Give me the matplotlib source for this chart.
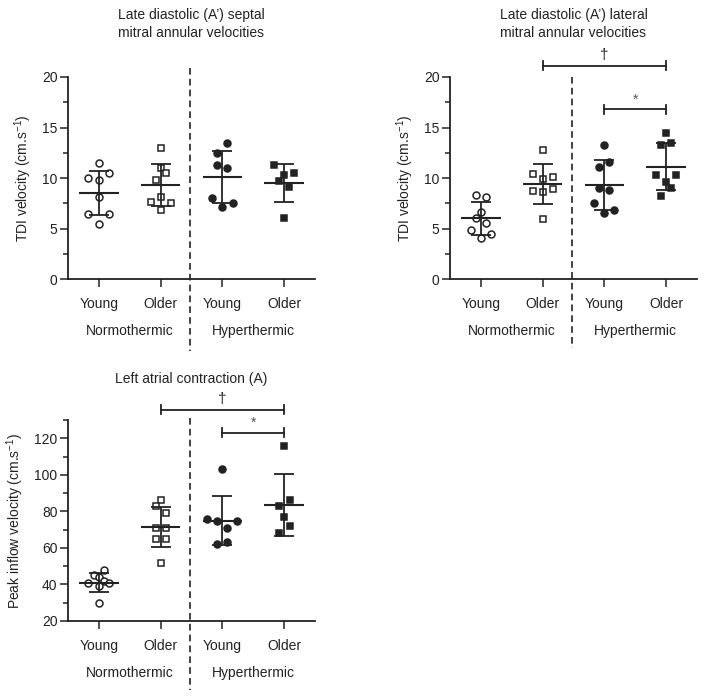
import matplotlib
matplotlib.use("Agg")
import matplotlib.pyplot as plt

plt.rcParams['font.family'] = ['Liberation Sans', 'DejaVu Sans']
plt.rcParams['mathtext.default'] = 'regular'

INK = '#222222'

groups = ['Young', 'Older', 'Young', 'Older']
conditions = ['Normothermic', 'Hyperthermic']

# --- septal A' (cm/s) ---
sep_young_n = [11.5, 10.0, 9.8, 10.5, 8.1, 6.4, 6.4, 5.4]
sep_older_n = [13.0, 11.0, 10.5, 9.8, 8.1, 7.6, 7.5, 6.8]
sep_young_h = [13.5, 12.5, 11.3, 11.0, 8.0, 7.1, 7.5]
sep_older_h = [11.3, 10.5, 10.3, 9.7, 9.1, 6.0]
sep_mean = [8.5, 9.3, 10.1, 9.5]
sep_sd = [2.2, 2.1, 2.6, 1.85]

# --- lateral A' (cm/s) ---
lat_young_n = [8.3, 8.1, 6.6, 6.0, 5.5, 4.9, 4.5, 4.1]
lat_older_n = [12.8, 10.4, 10.1, 9.9, 8.9, 8.7, 8.6, 5.9]
lat_young_h = [13.3, 11.6, 11.1, 9.05, 8.8, 7.5, 6.5, 6.8]
lat_older_h = [14.5, 13.5, 13.3, 10.3, 10.3, 9.65, 9.05, 8.2]
lat_mean = [6.0, 9.4, 9.3, 11.1]
lat_sd = [1.6, 1.97, 2.45, 2.32]

# --- left atrial contraction A (cm/s) ---
la_young_n = [48, 45, 44, 41, 42, 41, 39, 30]
la_older_n = [86, 83, 79, 71, 71, 65, 65, 52]
la_young_h = [103, 76, 75, 75, 71, 62, 63]
la_older_h = [116, 86, 83, 77, 72, 68]
la_mean = [41, 71.5, 75, 83.5]
la_sd = [5, 11, 13.5, 17.2]

# horizontal scatter of the dots (category units)
jit = {
    'sep': [[0, -0.17, 0, 0.16, 0, -0.17, 0.16, 0],
            [0, 0, 0.09, -0.08, 0, -0.16, 0.17, 0],
            [0.08, -0.08, -0.08, 0.08, -0.16, 0, 0.17],
            [-0.16, 0.16, 0, -0.08, 0.08, 0]],
    'lat': [[-0.08, 0.08, 0, -0.08, 0.08, -0.16, 0.16, 0],
            [0, -0.16, 0.17, 0, 0.17, -0.16, 0, 0],
            [0, 0.08, -0.09, -0.09, 0.08, -0.17, 0, 0.16],
            [0, 0.08, -0.09, -0.17, 0.16, 0, 0.08, -0.09]],
    'la': [[0.08, -0.08, 0.0, -0.17, 0.08, 0.16, 0, 0],
           [0, -0.08, 0.09, -0.08, 0.09, -0.08, 0.09, 0],
           [0, -0.25, -0.08, 0.24, 0.08, -0.08, 0.08],
           [0, 0.09, -0.08, 0, 0.09, -0.08]],
}

W, H = 704, 699
fig = plt.figure(figsize=(W / 100, H / 100), dpi=100)


def px_axes(left, top, right, bottom):
    return fig.add_axes([left / W, 1 - bottom / H, (right - left) / W, (bottom - top) / H])


def panel(ax, data, offs, mean, sd, ylim, major, minor, ylabel, title, title_y,
          dash_top, dash_bot, sig=None):
    styles = [('o', 'white'), ('s', 'white'), ('o', INK), ('s', INK)]
    for i, (vals, off) in enumerate(zip(data, offs)):
        m, fc = styles[i]
        xs = [i + o for o in off]
        ax.plot(xs, vals, m, ms=5.0 if m == 'o' else 4.7, mfc=fc, mec=INK,
                mew=1.1, ls='none', zorder=3, clip_on=False)
        ax.hlines(mean[i], i - 0.32, i + 0.32, color=INK, lw=1.5, zorder=4)
        ax.vlines(i, mean[i] - sd[i], mean[i] + sd[i], color=INK, lw=1.3, zorder=4)
        ax.hlines([mean[i] - sd[i], mean[i] + sd[i]], i - 0.16, i + 0.16,
                  color=INK, lw=1.3, zorder=4)

    ax.set_xlim(-0.5, 3.5)
    ax.set_ylim(*ylim)
    ax.set_yticks(major)
    ax.set_yticks(minor, minor=True)
    ax.set_xticks(range(4))
    ax.set_xticklabels(groups, fontsize=10, color=INK)
    ax.tick_params(axis='y', labelsize=10, colors=INK, length=6, width=1.1, pad=1.5)
    ax.tick_params(axis='y', which='minor', length=3.5, width=1.1, colors=INK)
    ax.tick_params(axis='x', length=6, width=1.1, colors=INK, pad=7)
    for s in ['top', 'right']:
        ax.spines[s].set_visible(False)
    for s in ['left', 'bottom']:
        ax.spines[s].set_linewidth(1.3)
        ax.spines[s].set_color(INK)
    ax.set_ylabel(ylabel, fontsize=10, color=INK, labelpad=6)

    tr = ax.get_xaxis_transform()
    ax.plot([1.47, 1.47], [dash_top, dash_bot], transform=tr, color=INK, lw=1.2,
            ls=(0, (4, 2.5)), clip_on=False)
    for k, name in enumerate(conditions):
        ax.annotate(name, xy=(0.5 + 2 * k, 0), xycoords=tr, xytext=(0, -37.5),
                    textcoords='offset points', ha='center', va='center',
                    fontsize=10, color=INK)
    ax.text(0.5, title_y, title, transform=ax.transAxes, ha='center', va='center',
            fontsize=10, color=INK, linespacing=1.3)

    if sig:
        for x0, x1, y, sym, tick in sig:
            ax.plot([x0, x1], [y, y], color=INK, lw=1.3, clip_on=False)
            for xx in (x0, x1):
                ax.plot([xx, xx], [y - tick, y + tick], color=INK, lw=1.3, clip_on=False)
            if sym == '†':
                ax.annotate(sym, xy=((x0 + x1) / 2, y), xytext=(0, 2.5),
                            textcoords='offset points', ha='center', va='bottom',
                            fontsize=11, color=INK, annotation_clip=False)
            else:
                ax.annotate(sym, xy=((x0 + x1) / 2, y), xytext=(0, 2),
                            textcoords='offset points', ha='center', va='bottom',
                            fontsize=10, color='#555555', annotation_clip=False)


ax1 = px_axes(68, 77, 315, 279)
panel(ax1, [sep_young_n, sep_older_n, sep_young_h, sep_older_h], jit['sep'],
      sep_mean, sep_sd, (0, 20), range(0, 21, 5), [2.5, 7.5, 12.5, 17.5],
      'TDI velocity (cm.s$^{-1}$)',
      "Late diastolic (A\u2019) septal\nmitral annular velocities", 1.262,
      1.045, -0.355)

ax2 = px_axes(450, 77, 697, 279)
panel(ax2, [lat_young_n, lat_older_n, lat_young_h, lat_older_h], jit['lat'],
      lat_mean, lat_sd, (0, 20), range(0, 21, 5), [2.5, 7.5, 12.5, 17.5],
      'TDI velocity (cm.s$^{-1}$)',
      "Late diastolic (A\u2019) lateral\nmitral annular velocities", 1.262,
      1.0, -0.34,
      sig=[(1, 3, 21.1, '†', 0.45), (2, 3, 16.8, '*', 0.45)])

ax3 = px_axes(68, 420, 315, 621)
panel(ax3, [la_young_n, la_older_n, la_young_h, la_older_h], jit['la'],
      la_mean, la_sd, (20, 130), range(20, 121, 20), [30, 50, 70, 90, 110, 130],
      'Peak inflow velocity (cm.s$^{-1}$)',
      'Left atrial contraction (A)', 1.204,
      1.01, -0.345,
      sig=[(1, 3, 135.7, '†', 2.4), (2, 3, 123.1, '*', 2.4)])

fig.savefig('out.png', dpi=100)
